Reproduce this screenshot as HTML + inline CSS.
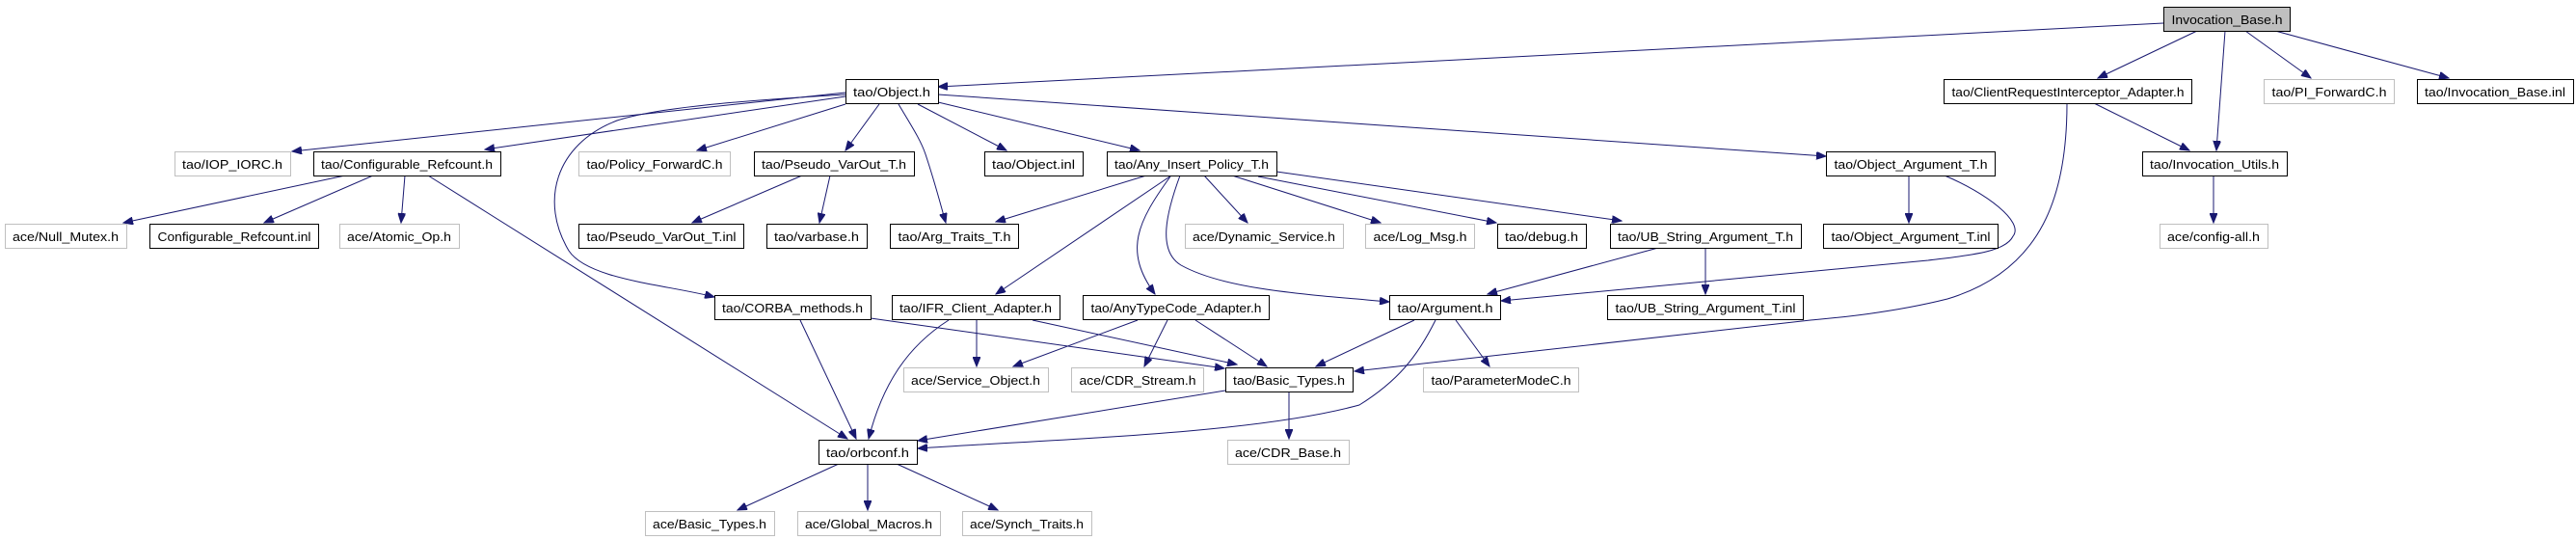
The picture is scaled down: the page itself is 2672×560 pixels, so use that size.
<!DOCTYPE html>
<html><head><meta charset="utf-8"><style>
html,body{margin:0;padding:0;background:#fff;}
svg{display:block;}
text{font-family:"Liberation Sans",sans-serif;font-size:13px;fill:#000;text-anchor:middle;}
.b{fill:#fff;stroke:#000;stroke-width:1;}
.g{fill:#fff;stroke:#bfbfbf;stroke-width:1;}
path{fill:none;stroke:#191970;stroke-width:1;}
</style></head><body>
<svg width="2672" height="560" viewBox="0 0 2672 560" xmlns="http://www.w3.org/2000/svg">
<defs><marker id="a" markerWidth="11" markerHeight="8" refX="10" refY="4" orient="auto" markerUnits="userSpaceOnUse"><path d="M0,0 L10,4 L0,8 Z" style="fill:#191970;stroke:#191970"/></marker></defs>
<g marker-end="url(#a)">
<path d="M2244,24 L973,90"/>
<path d="M2279,32 L2176,81"/>
<path d="M2308,32 L2299,156"/>
<path d="M2329,32 L2397,81"/>
<path d="M2360,32 L2540,81"/>
<path d="M2172,107 L2271,156"/>
<path d="M2144,107 C2144,200 2120,280 2020,310 C1960,325 1900,330 1878,332 L1405,385"/>
<path d="M2296,182 L2296,231"/>
<path d="M877,96 L303,157"/>
<path d="M877,100 L503,155"/>
<path d="M877,98 C760,105 680,112 640,125 C575,150 560,210 590,260 C610,290 690,295 741,308"/>
<path d="M444,182 C600,280 760,380 879,455"/>
<path d="M877,108 L723,156"/>
<path d="M912,108 L877,156"/>
<path d="M932,108 C945,130 955,145 960,160 C970,190 975,210 981,231"/>
<path d="M952,108 L1044,156"/>
<path d="M973,106 L1182,156"/>
<path d="M973,98 L1894,162"/>
<path d="M832,182 L718,231"/>
<path d="M861,182 L850,231"/>
<path d="M1189,182 L1033,230"/>
<path d="M1215,182 L1033,305"/>
<path d="M1214,183 C1180,230 1165,260 1198,305"/>
<path d="M1224,182 C1210,220 1200,260 1225,275 C1270,300 1350,305 1441,313"/>
<path d="M1249,182 L1294,231"/>
<path d="M1278,182 L1432,231"/>
<path d="M1305,183 L1552,231"/>
<path d="M1324,178 L1682,229"/>
<path d="M1980,182 L1980,231"/>
<path d="M2017,182 C2060,200 2100,230 2088,245 C2080,262 2040,265 2000,270 L1557,312"/>
<path d="M1720,257 L1543,305"/>
<path d="M1769,257 L1769,305"/>
<path d="M1467,332 L1365,380"/>
<path d="M1510,332 L1545,380"/>
<path d="M1489,332 C1470,370 1450,395 1410,420 C1300,450 1100,455 952,465"/>
<path d="M1271,405 L952,457"/>
<path d="M1337,405 L1337,455"/>
<path d="M830,332 L888,455"/>
<path d="M903,330 L1270,382"/>
<path d="M984,332 C940,360 915,400 901,455"/>
<path d="M1013,332 L1013,380"/>
<path d="M1071,332 L1283,378"/>
<path d="M1180,332 L1051,380"/>
<path d="M1211,332 L1187,380"/>
<path d="M1240,332 L1314,380"/>
<path d="M870,481 L765,529"/>
<path d="M900,481 L900,529"/>
<path d="M930,481 L1035,529"/>
<path d="M358,182 L128,231"/>
<path d="M387,182 L274,231"/>
<path d="M420,182 L416,231"/>
</g>
<g>
<rect x="2244.5" y="7.5" width="131" height="25" style="fill:#bfbfbf;stroke:#000"/><text x="2310" y="25" textLength="115" lengthAdjust="spacingAndGlyphs">Invocation_Base.h</text>
<rect class="b" x="877.5" y="82.5" width="96" height="25"/><text x="925" y="100" textLength="80" lengthAdjust="spacingAndGlyphs">tao/Object.h</text>
<rect class="b" x="2016.5" y="82.5" width="257" height="25"/><text x="2145" y="100" textLength="241" lengthAdjust="spacingAndGlyphs">tao/ClientRequestInterceptor_Adapter.h</text>
<rect class="g" x="2348.5" y="82.5" width="135" height="25"/><text x="2416" y="100" textLength="119" lengthAdjust="spacingAndGlyphs">tao/PI_ForwardC.h</text>
<rect class="b" x="2507.5" y="82.5" width="162" height="25"/><text x="2588" y="100" textLength="146" lengthAdjust="spacingAndGlyphs">tao/Invocation_Base.inl</text>

<rect class="g" x="181.5" y="157.5" width="120" height="25"/><text x="241" y="175" textLength="104" lengthAdjust="spacingAndGlyphs">tao/IOP_IORC.h</text>
<rect class="b" x="325.5" y="157.5" width="194" height="25"/><text x="422" y="175" textLength="178" lengthAdjust="spacingAndGlyphs">tao/Configurable_Refcount.h</text>
<rect class="g" x="600.5" y="157.5" width="157" height="25"/><text x="679" y="175" textLength="141" lengthAdjust="spacingAndGlyphs">tao/Policy_ForwardC.h</text>
<rect class="b" x="782.5" y="157.5" width="166" height="25"/><text x="865" y="175" textLength="150" lengthAdjust="spacingAndGlyphs">tao/Pseudo_VarOut_T.h</text>
<rect class="b" x="1021.5" y="157.5" width="102" height="25"/><text x="1072" y="175" textLength="86" lengthAdjust="spacingAndGlyphs">tao/Object.inl</text>
<rect class="b" x="1148.5" y="157.5" width="176" height="25"/><text x="1236" y="175" textLength="160" lengthAdjust="spacingAndGlyphs">tao/Any_Insert_Policy_T.h</text>
<rect class="b" x="1894.5" y="157.5" width="175" height="25"/><text x="1982" y="175" textLength="159" lengthAdjust="spacingAndGlyphs">tao/Object_Argument_T.h</text>
<rect class="b" x="2222.5" y="157.5" width="150" height="25"/><text x="2297" y="175" textLength="134" lengthAdjust="spacingAndGlyphs">tao/Invocation_Utils.h</text>

<rect class="g" x="5.5" y="232.5" width="126" height="25"/><text x="68" y="250" textLength="110" lengthAdjust="spacingAndGlyphs">ace/Null_Mutex.h</text>
<rect class="b" x="155.5" y="232.5" width="175" height="25"/><text x="243" y="250" textLength="159" lengthAdjust="spacingAndGlyphs">Configurable_Refcount.inl</text>
<rect class="g" x="352.5" y="232.5" width="124" height="25"/><text x="414" y="250" textLength="108" lengthAdjust="spacingAndGlyphs">ace/Atomic_Op.h</text>
<rect class="b" x="600.5" y="232.5" width="171" height="25"/><text x="686" y="250" textLength="155" lengthAdjust="spacingAndGlyphs">tao/Pseudo_VarOut_T.inl</text>
<rect class="b" x="795.5" y="232.5" width="104" height="25"/><text x="847" y="250" textLength="88" lengthAdjust="spacingAndGlyphs">tao/varbase.h</text>
<rect class="b" x="923.5" y="232.5" width="133" height="25"/><text x="990" y="250" textLength="117" lengthAdjust="spacingAndGlyphs">tao/Arg_Traits_T.h</text>
<rect class="g" x="1229.5" y="232.5" width="164" height="25"/><text x="1311" y="250" textLength="148" lengthAdjust="spacingAndGlyphs">ace/Dynamic_Service.h</text>
<rect class="g" x="1416.5" y="232.5" width="113" height="25"/><text x="1473" y="250" textLength="97" lengthAdjust="spacingAndGlyphs">ace/Log_Msg.h</text>
<rect class="b" x="1553.5" y="232.5" width="92" height="25"/><text x="1599" y="250" textLength="76" lengthAdjust="spacingAndGlyphs">tao/debug.h</text>
<rect class="b" x="1670.5" y="232.5" width="198" height="25"/><text x="1769" y="250" textLength="182" lengthAdjust="spacingAndGlyphs">tao/UB_String_Argument_T.h</text>
<rect class="b" x="1891.5" y="232.5" width="181" height="25"/><text x="1982" y="250" textLength="165" lengthAdjust="spacingAndGlyphs">tao/Object_Argument_T.inl</text>
<rect class="g" x="2240.5" y="232.5" width="112" height="25"/><text x="2296" y="250" textLength="96" lengthAdjust="spacingAndGlyphs">ace/config-all.h</text>

<rect class="b" x="741.5" y="306.5" width="162" height="25"/><text x="822" y="324" textLength="146" lengthAdjust="spacingAndGlyphs">tao/CORBA_methods.h</text>
<rect class="b" x="925.5" y="306.5" width="174" height="25"/><text x="1012" y="324" textLength="158" lengthAdjust="spacingAndGlyphs">tao/IFR_Client_Adapter.h</text>
<rect class="b" x="1123.5" y="306.5" width="193" height="25"/><text x="1220" y="324" textLength="177" lengthAdjust="spacingAndGlyphs">tao/AnyTypeCode_Adapter.h</text>
<rect class="b" x="1441.5" y="306.5" width="115" height="25"/><text x="1499" y="324" textLength="99" lengthAdjust="spacingAndGlyphs">tao/Argument.h</text>
<rect class="b" x="1667.5" y="306.5" width="203" height="25"/><text x="1769" y="324" textLength="187" lengthAdjust="spacingAndGlyphs">tao/UB_String_Argument_T.inl</text>

<rect class="g" x="937.5" y="381.5" width="150" height="25"/><text x="1012" y="399" textLength="134" lengthAdjust="spacingAndGlyphs">ace/Service_Object.h</text>
<rect class="g" x="1111.5" y="381.5" width="137" height="25"/><text x="1180" y="399" textLength="121" lengthAdjust="spacingAndGlyphs">ace/CDR_Stream.h</text>
<rect class="b" x="1271.5" y="381.5" width="132" height="25"/><text x="1337" y="399" textLength="116" lengthAdjust="spacingAndGlyphs">tao/Basic_Types.h</text>
<rect class="g" x="1476.5" y="381.5" width="161" height="25"/><text x="1557" y="399" textLength="145" lengthAdjust="spacingAndGlyphs">tao/ParameterModeC.h</text>

<rect class="b" x="849.5" y="456.5" width="102" height="25"/><text x="900" y="474" textLength="86" lengthAdjust="spacingAndGlyphs">tao/orbconf.h</text>
<rect class="g" x="1273.5" y="456.5" width="126" height="25"/><text x="1336" y="474" textLength="110" lengthAdjust="spacingAndGlyphs">ace/CDR_Base.h</text>

<rect class="g" x="669.5" y="530.5" width="134" height="25"/><text x="736" y="548" textLength="118" lengthAdjust="spacingAndGlyphs">ace/Basic_Types.h</text>
<rect class="g" x="827.5" y="530.5" width="148" height="25"/><text x="901" y="548" textLength="132" lengthAdjust="spacingAndGlyphs">ace/Global_Macros.h</text>
<rect class="g" x="998.5" y="530.5" width="134" height="25"/><text x="1065" y="548" textLength="118" lengthAdjust="spacingAndGlyphs">ace/Synch_Traits.h</text>
</g>
</svg>
</body></html>
